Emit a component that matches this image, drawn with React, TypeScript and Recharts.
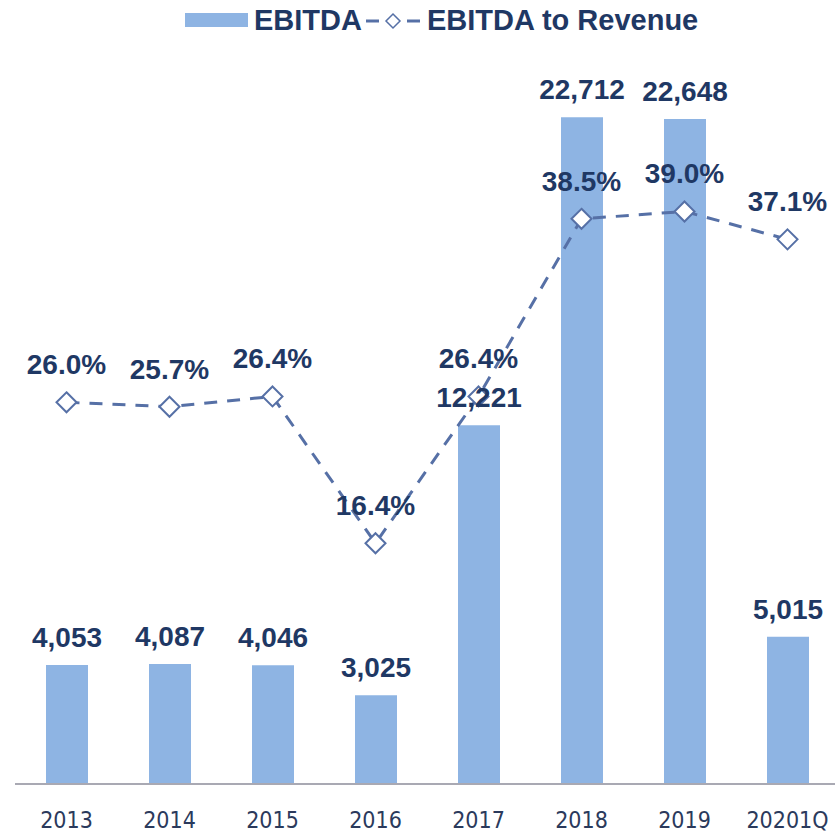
import React from 'react';
import {
  ComposedChart,
  Bar,
  Line,
  XAxis,
  YAxis,
  LabelList
} from 'recharts';

const years = ['2013', '2014', '2015', '2016', '2017', '2018', '2019', '20201Q'];
const ebitda = [4053, 4087, 4046, 3025, 12221, 22712, 22648, 5015];
const ebitdaToRevenue = [26.0, 25.7, 26.4, 16.4, 26.4, 38.5, 39.0, 37.1];

const chartData = years.map((year, i) => ({
  year,
  ebitda: ebitda[i],
  ratio: ebitdaToRevenue[i]
}));

const NAVY = '#1f3864';
const BAR_BLUE = '#8eb4e3';
const LINE_BLUE = '#5670a6';
const LABEL_FONT = '"Liberation Sans", Arial, sans-serif';

const Diamond = (props: any) => {
  const { cx, cy } = props;
  if (cx == null || cy == null) return null;
  const r = 10;
  return (
    <path
      d={`M${cx},${cy - r} L${cx + r},${cy} L${cx},${cy + r} L${cx - r},${cy} Z`}
      fill="#fff"
      stroke={LINE_BLUE}
      strokeWidth={2}
    />
  );
};

const YearTick = (props: any) => {
  const { x, y, payload } = props;
  return (
    <text
      x={x}
      y={y + 44}
      textAnchor="middle"
      fontSize={23}
      fill="#2b3a5c"
      fontFamily='"Liberation Sans Narrow", "DejaVu Sans Condensed", sans-serif'
    >
      {payload.value}
    </text>
  );
};

const ChartLegend = () => (
  <div
    style={{
      position: 'absolute',
      top: 0,
      left: 0,
      width: 835,
      height: 45,
      fontFamily: LABEL_FONT,
      fontWeight: 'bold',
      fontSize: 29,
      color: NAVY
    }}
  >
    <div style={{ position: 'absolute', left: 185, top: 13, width: 63, height: 14, background: BAR_BLUE }} />
    <div style={{ position: 'absolute', left: 254, top: 3, lineHeight: '34px' }}>EBITDA</div>
    <svg style={{ position: 'absolute', left: 362, top: 6 }} width={62} height={30}>
      <line x1={4} y1={15} x2={17} y2={15} stroke={LINE_BLUE} strokeWidth={3} />
      <path d="M31,8 L38,15 L31,22 L24,15 Z" fill="#fff" stroke={LINE_BLUE} strokeWidth={1.5} />
      <line x1={45} y1={15} x2={58} y2={15} stroke={LINE_BLUE} strokeWidth={3} />
    </svg>
    <div style={{ position: 'absolute', left: 427, top: 3, lineHeight: '34px' }}>EBITDA to Revenue</div>
  </div>
);

const App: React.FC = () => {
  return (
    <div
      style={{
        position: 'absolute',
        top: 0,
        left: 0,
        width: 835,
        height: 834,
        overflow: 'hidden',
        background: '#fff'
      }}
    >
      <ComposedChart
        width={845}
        height={834}
        data={chartData}
        margin={{ top: 50, right: 6, left: 15, bottom: 0 }}
      >
        <XAxis
          dataKey="year"
          axisLine={{ stroke: '#a9a9b3', strokeWidth: 2 }}
          tickLine={false}
          tickSize={0}
          tickMargin={0}
          height={50}
          interval={0}
          tick={<YearTick />}
        />
        <YAxis yAxisId="left" hide domain={[0, 25000]} />
        <YAxis yAxisId="right" orientation="right" hide domain={[0, 50]} />
        <Bar
          yAxisId="left"
          dataKey="ebitda"
          fill={BAR_BLUE}
          barSize={42}
          isAnimationActive={false}
        >
          <LabelList
            dataKey="ebitda"
            position="top"
            offset={18}
            formatter={(v: any) => Number(v).toLocaleString('en-US')}
            style={{ fontFamily: LABEL_FONT, fontWeight: 'bold', fontSize: 28, fill: NAVY }}
          />
        </Bar>
        <Line
          yAxisId="right"
          dataKey="ratio"
          stroke={LINE_BLUE}
          strokeWidth={3}
          strokeDasharray="13 10"
          dot={<Diamond />}
          activeDot={false}
          isAnimationActive={false}
        >
          <LabelList
            dataKey="ratio"
            position="top"
            offset={28}
            formatter={(v: any) => `${Number(v).toFixed(1)}%`}
            style={{ fontFamily: LABEL_FONT, fontWeight: 'bold', fontSize: 28, fill: NAVY }}
          />
        </Line>
      </ComposedChart>
      <ChartLegend />
    </div>
  );
};

export default App;
